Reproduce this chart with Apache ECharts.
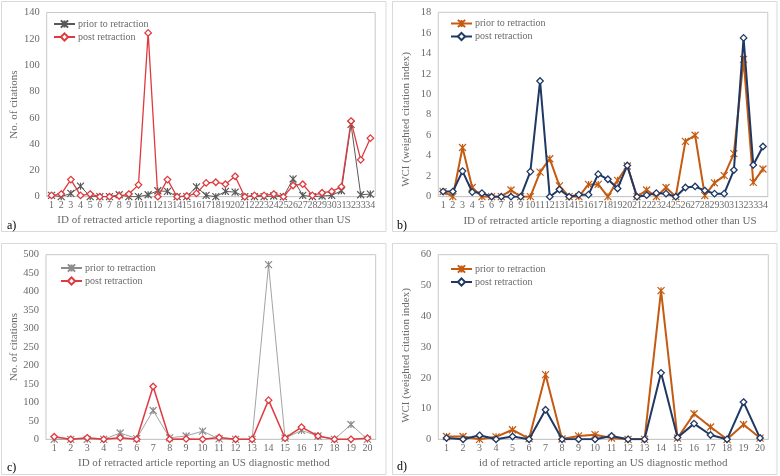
<!DOCTYPE html>
<html><head><meta charset="utf-8">
<script src="https://cdn.jsdelivr.net/npm/echarts@6/dist/echarts.min.js"></script>
<style>html,body{margin:0;padding:0;background:#fff}#c{width:780px;height:476px}</style>
</head><body><div id="c"></div>
<script>
// Panel a: No. of citations, non-US diagnostic methods (IDs 1-34)
var catsA = ['1','2','3','4','5','6','7','8','9','10','11','12','13','14','15','16','17','18','19','20','21','22','23','24','25','26','27','28','29','30','31','32','33','34'];
var priorA = [1,0,2.5,8,0,0,0,1.5,0,0,1.5,4.5,4,0,0,7.5,1,0,4,3.5,0,0,0,0.5,0,13.5,1,0,0.5,1,4.5,55,1.5,2];
var postA  = [1,2,13,1,2,0,0,0.5,2,9,124.5,0,13,0,0.5,2.5,10.5,11,9.5,15.5,0,1,1,2,0,8.5,9.5,1,3,4,7.5,57.5,28,44.5];
// Panel b: WCI, non-US diagnostic methods
var priorB = [0.5,0,4.8,0.9,0,0,0,0.65,0,0,2.4,3.7,1.05,0,0,1.2,1.2,0,1.6,3.0,0,0.65,0,0.9,0,5.4,6.0,0.1,1.35,2.05,4.2,13.4,1.4,2.7];
var postB  = [0.5,0.5,2.5,0.45,0.35,0,0,0,0,2.45,11.3,0,0.7,0,0.2,0.2,2.2,1.7,0.8,3.05,0,0.15,0.35,0.3,0,0.9,1.0,0.6,0.3,0.3,2.6,15.5,3.1,4.9];
// Panel c: No. of citations, US diagnostic method (IDs 1-20)
var catsC = ['1','2','3','4','5','6','7','8','9','10','11','12','13','14','15','16','17','18','19','20'];
var priorC = [0,0,0,0,17,2,78,4,9,22,1,0,0,473,3,24,9,0,40,0];
var postC  = [7,0,4,0,4,0,143,0,1,0,5,0,0,106,3,33,9,0,0,3];
// Panel d: WCI, US diagnostic method
var priorD = [0.9,0.9,0,0.8,3.1,0.2,21,0.1,1.1,1.5,0.4,0,0,48.3,0.4,8.3,4,0,4.8,0.4];
var postD  = [0.4,0,1.3,0,0.9,0,9.6,0,0,0,1.1,0,0,21.6,0.6,5.1,1.4,0,12.1,0.4];

var yTitleCit = 'No. of citations';
var yTitleWCI = 'WCI (weighted citation index)';
var xTitleA = 'ID of retracted article reporting a diagnostic method other than US';
var xTitleC = 'ID of retracted article reporting an US diagnostic method';
var xTitleD = 'id of retracted article reporting an US diagnostic method';
var legendNames = {prior: 'prior to retraction', post: 'post retraction'};

var FONT = '"Liberation Serif","Times New Roman",serif';
var TXT = '#6a6a6a';
var GREY = '#595959', RED = '#e0393e', ORANGE = '#c55a11', NAVY = '#1f3864';
var STAR = 'path://M0,0L10,10M10,0L0,10M5,0L5,10';

var grids = [
  {left: 46.7, top: 12.5, width: 328.5, height: 184.2},
  {left: 438.3, top: 12.3, width: 329.5, height: 184.4},
  {left: 46, top: 254.7, width: 329.7, height: 184.6},
  {left: 438.3, top: 254.7, width: 330, height: 184.6}
].map(function(g){ return Object.assign({show: true, borderColor: '#c8c8c8', borderWidth: 1, backgroundColor: 'transparent'}, g); });

function xAx(i, cats, name, gap, pad){
  return {type: 'category', gridIndex: i, data: cats, boundaryGap: true,
    axisLine: {show: true, lineStyle: {color: '#c8c8c8'}}, axisTick: {show: false},
    axisLabel: {interval: 0, color: TXT, fontFamily: FONT, fontSize: 10, margin: 4, hideOverlap: false},
    name: name, nameLocation: 'middle', nameGap: gap,
    nameTextStyle: {color: TXT, fontFamily: FONT, fontSize: 11, padding: pad}};
}
function yAx(i, max, interval, name, gap, pad){
  return {type: 'value', gridIndex: i, min: 0, max: max, interval: interval,
    axisLine: {show: false}, axisTick: {show: false}, splitLine: {show: false},
    axisLabel: {color: TXT, fontFamily: FONT, fontSize: 10.5, margin: 7},
    name: name, nameLocation: 'middle', nameGap: gap,
    nameTextStyle: {color: TXT, fontFamily: FONT, fontSize: 11, padding: pad}};
}
function starSeries(id, i, data, color, w){
  return {id: id, name: id, type: 'line', xAxisIndex: i, yAxisIndex: i, data: data,
    symbol: STAR, symbolSize: 7, showSymbol: true,
    lineStyle: {color: color, width: w}, itemStyle: {color: color, borderColor: color, borderWidth: 1.2},
    emphasis: {disabled: true}, animation: false, z: 3};
}
function diaSeries(id, i, data, color, w){
  return {id: id, name: id, type: 'line', xAxisIndex: i, yAxisIndex: i, data: data,
    symbol: 'diamond', symbolSize: 6.5, showSymbol: true,
    lineStyle: {color: color, width: w}, itemStyle: {color: '#ffffff', borderColor: color, borderWidth: 1.3},
    emphasis: {disabled: true}, animation: false, z: 4};
}
function leg(names, left, top){
  return {data: names, orient: 'vertical', left: left, top: top, itemWidth: 21, itemHeight: 9, itemGap: 3,
    padding: 0, selectedMode: false,
    formatter: function(n){ return legendNames[n.split('_')[1]]; },
    textStyle: {color: TXT, fontFamily: FONT, fontSize: 10, padding: [0,0,0,-2]}};
}
function panelRect(x, y, w, h){
  return {type: 'rect', shape: {x: x, y: y, width: w, height: h}, style: {fill: 'none', stroke: '#d9d9d9', lineWidth: 1}, silent: true, z: -1};
}
function panelLabel(t, x, y){
  return {type: 'text', x: x, y: y, style: {text: t, fill: '#000', font: '12px ' + FONT, textVerticalAlign: 'middle'}, silent: true};
}

var option = {
  backgroundColor: '#fff',
  animation: false,
  grid: grids,
  xAxis: [xAx(0, catsA, xTitleA, 18, [0,14,0,0]), xAx(1, catsA, xTitleA, 19, [0,0,0,14]), xAx(2, catsC, xTitleC, 18, [0,14,0,0]), xAx(3, catsC, xTitleD, 18, 0)],
  yAxis: [yAx(0, 140, 20, yTitleCit, 26, 0), yAx(1, 18, 2, yTitleWCI, 27, [0,30,0,0]), yAx(2, 500, 50, yTitleCit, 26, 0), yAx(3, 60, 10, yTitleWCI, 27, [0,17,0,0])],
  legend: [leg(['a_prior','a_post'], 53, 19), leg(['b_prior','b_post'], 450, 18.5), leg(['c_prior','c_post'], 60, 263), leg(['d_prior','d_post'], 450, 264)],
  series: [
    starSeries('a_prior', 0, priorA, GREY, 1),
    diaSeries('a_post', 0, postA, RED, 1.3),
    starSeries('b_prior', 1, priorB, ORANGE, 2),
    diaSeries('b_post', 1, postB, NAVY, 2),
    starSeries('c_prior', 2, priorC, '#8c8c8c', 0.8),
    diaSeries('c_post', 2, postC, RED, 1.5),
    starSeries('d_prior', 3, priorD, ORANGE, 2),
    diaSeries('d_post', 3, postD, NAVY, 2)
  ],
  graphic: [
    panelRect(1.5, 1.5, 384.5, 230), panelRect(392.5, 1.5, 384.5, 230),
    panelRect(1.5, 243.5, 384.5, 231), panelRect(392.5, 243.5, 384.5, 231),
    panelLabel('a)', 7, 226), panelLabel('b)', 397, 226),
    panelLabel('c)', 7, 468), panelLabel('d)', 397, 467)
  ]
};
var chart = echarts.init(document.getElementById('c'), null, {renderer: 'canvas'});
chart.setOption(option);
</script></body></html>
